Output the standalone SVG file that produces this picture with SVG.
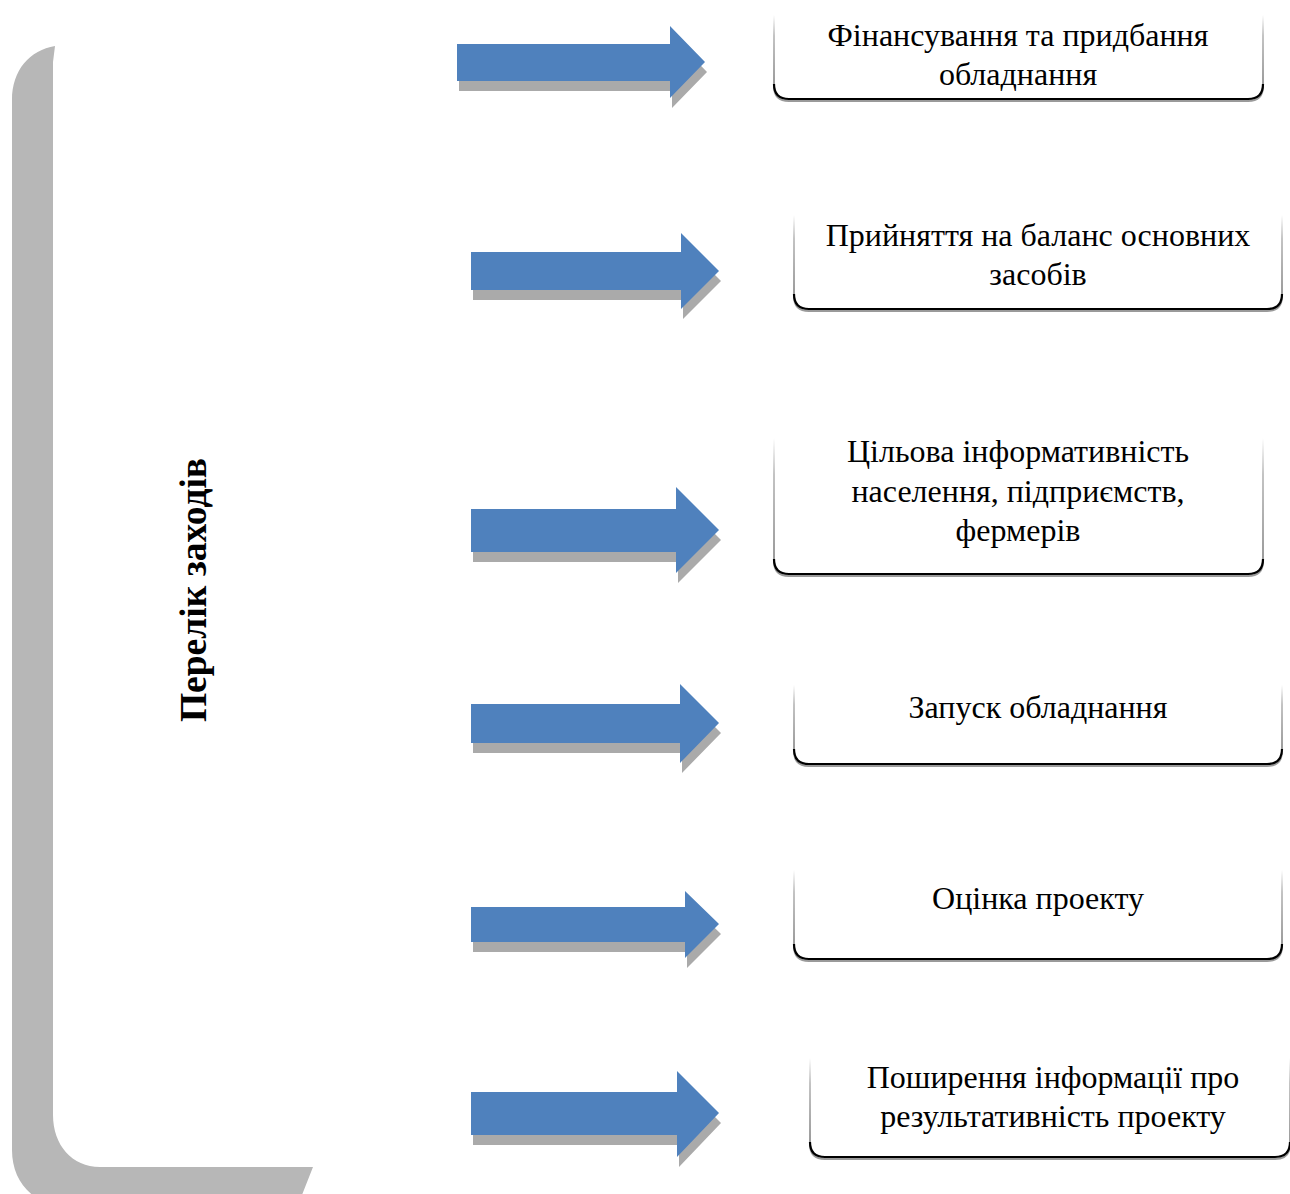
<svg xmlns="http://www.w3.org/2000/svg" width="1290" height="1194" viewBox="0 0 1290 1194">
<defs>
<linearGradient id="side" x1="0" y1="0" x2="0" y2="1">
<stop offset="0" stop-color="#ffffff"/>
<stop offset="0.3" stop-color="#b0b0b0"/>
<stop offset="1" stop-color="#7a7a7a"/>
</linearGradient>
<style>
.bracket{fill:#b7b7b7}
.ashadow{fill:#aaaaaa}
.arrow{fill:#4f81bd}
.side{fill:none;stroke:url(#side);stroke-width:1.5}
.bot{fill:none;stroke:#000;stroke-width:2.2}
.botsh{fill:none;stroke:#9a9a9a;stroke-width:2}
.t{font-family:"Liberation Serif","Times New Roman",serif;font-size:32px;fill:#000;text-anchor:middle}
.title{font-family:"Liberation Serif","Times New Roman",serif;font-size:37.5px;font-weight:bold;fill:#000;text-anchor:middle}
</style>
</defs>
<rect width="1290" height="1194" fill="#fff"/>

<g id="bracket">
<path class="bracket" d="M55,46 C30,50 12,70 12,100 L12,1150 C12,1172 22,1190 40,1200 L300,1200 L313,1167 L100,1167 C72,1167 53,1145 53,1115 L53,62 Z"/>
<text class="title" transform="translate(206,590) rotate(-90)">Перелік заходів</text>
</g>

<g id="connectors">
<g id="arrow1">
<path class="ashadow" transform="translate(2,10)" d="M457,44 H670 V26 L705,62 L670,98 V81 H457 Z"/>
<path class="arrow" d="M457,44 H670 V26 L705,62 L670,98 V81 H457 Z"/>
</g>
<g id="arrow2">
<path class="ashadow" transform="translate(2,10)" d="M471,252 H681 V233 L719,271 L681,309 V290 H471 Z"/>
<path class="arrow" d="M471,252 H681 V233 L719,271 L681,309 V290 H471 Z"/>
</g>
<g id="arrow3">
<path class="ashadow" transform="translate(2,10)" d="M471,509 H676 V487 L719,530 L676,573 V552 H471 Z"/>
<path class="arrow" d="M471,509 H676 V487 L719,530 L676,573 V552 H471 Z"/>
</g>
<g id="arrow4">
<path class="ashadow" transform="translate(2,10)" d="M471,704 H680 V684 L719,723 L680,763 V743 H471 Z"/>
<path class="arrow" d="M471,704 H680 V684 L719,723 L680,763 V743 H471 Z"/>
</g>
<g id="arrow5">
<path class="ashadow" transform="translate(2,10)" d="M471,907 H685 V891 L719,924 L685,958 V942 H471 Z"/>
<path class="arrow" d="M471,907 H685 V891 L719,924 L685,958 V942 H471 Z"/>
</g>
<g id="arrow6">
<path class="ashadow" transform="translate(2,10)" d="M471,1092 H677 V1071 L719,1113 L677,1157 V1135 H471 Z"/>
<path class="arrow" d="M471,1092 H677 V1071 L719,1113 L677,1157 V1135 H471 Z"/>
</g>
</g>

<g id="box1">
<path class="side" d="M774,15 V84 M1263,15 V84"/>
<path class="botsh" d="M774,86 Q774,101 789,101 H1248 Q1263,101 1263,86"/>
<path class="bot" d="M774,84 Q774,99 789,99 H1248 Q1263,99 1263,84"/>
<text class="t" x="1018" y="46">Фінансування та придбання</text>
<text class="t" x="1018" y="85">обладнання</text>
</g>

<g id="box2">
<path class="side" d="M794,215 V294 M1282,215 V294"/>
<path class="botsh" d="M794,296 Q794,311 809,311 H1267 Q1282,311 1282,296"/>
<path class="bot" d="M794,294 Q794,309 809,309 H1267 Q1282,309 1282,294"/>
<text class="t" x="1038" y="246">Прийняття на баланс основних</text>
<text class="t" x="1038" y="285">засобів</text>
</g>

<g id="box3">
<path class="side" d="M774,438 V559 M1263,438 V559"/>
<path class="botsh" d="M774,561 Q774,576 789,576 H1248 Q1263,576 1263,561"/>
<path class="bot" d="M774,559 Q774,574 789,574 H1248 Q1263,574 1263,559"/>
<text class="t" x="1018" y="462">Цільова інформативність</text>
<text class="t" x="1018" y="502">населення, підприємств,</text>
<text class="t" x="1018" y="541">фермерів</text>
</g>

<g id="box4">
<path class="side" d="M794,685 V749 M1282,685 V749"/>
<path class="botsh" d="M794,751 Q794,766 809,766 H1267 Q1282,766 1282,751"/>
<path class="bot" d="M794,749 Q794,764 809,764 H1267 Q1282,764 1282,749"/>
<text class="t" x="1038" y="718">Запуск обладнання</text>
</g>

<g id="box5">
<path class="side" d="M794,870 V944 M1282,870 V944"/>
<path class="botsh" d="M794,946 Q794,961 809,961 H1267 Q1282,961 1282,946"/>
<path class="bot" d="M794,944 Q794,959 809,959 H1267 Q1282,959 1282,944"/>
<text class="t" x="1038" y="909">Оцінка проекту</text>
</g>

<g id="box6">
<path class="side" d="M810,1058 V1142 M1290,1058 V1142"/>
<path class="botsh" d="M810,1144 Q810,1159 825,1159 H1275 Q1290,1159 1290,1144"/>
<path class="bot" d="M810,1142 Q810,1157 825,1157 H1275 Q1290,1157 1290,1142"/>
<text class="t" x="1053" y="1088">Поширення інформації про</text>
<text class="t" x="1053" y="1127">результативність проекту</text>
</g>
</svg>
